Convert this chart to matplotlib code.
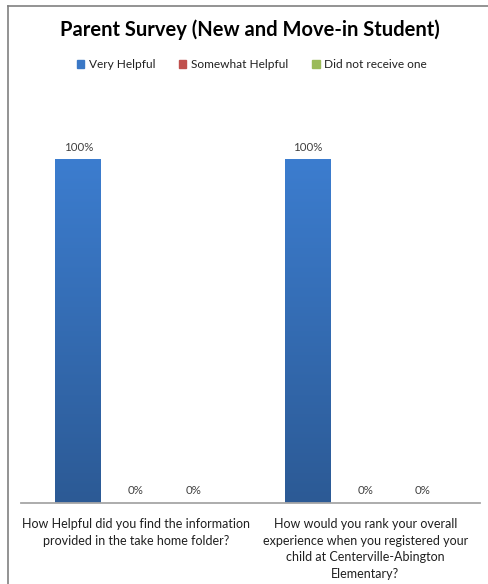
import numpy as np
import matplotlib
matplotlib.use('Agg')
from matplotlib import pyplot as plt
from matplotlib.colors import LinearSegmentedColormap
from matplotlib.lines import Line2D

questions = [
    'How Helpful did you find the information\nprovided in the take home folder?',
    'How would you rank your overall\nexperience when you registered your\nchild at Centerville-Abington\nElementary?',
]
series_names = ['Very Helpful', 'Somewhat Helpful', 'Did not receive one']
very_helpful = [100, 100]
somewhat_helpful = [0, 0]
not_received = [0, 0]

colors = ['#3a78c6', '#c0504d', '#9bbb59']
grads = [('#2c5a95', '#3c7dcf'), ('#9c3a37', '#c9534f'), ('#7c9a44', '#a0c05c')]

plt.rcParams['font.family'] = ['Lato', 'DejaVu Sans']

W, H = 488, 584
fig = plt.figure(figsize=(W / 100, H / 100), dpi=100)
ax = fig.add_axes([21 / W, (H - 503) / H, (480 - 21) / W, (503 - 91) / H])

x = np.arange(len(questions))
offsets = [-0.25, 0, 0.25]
width = 0.2
values = [very_helpful, somewhat_helpful, not_received]

for vals, off, col, (c_lo, c_hi) in zip(values, offsets, colors, grads):
    bars = ax.bar(x + off, vals, width, color=col, edgecolor='none', zorder=2)
    cmap = LinearSegmentedColormap.from_list('g', [c_lo, c_hi])
    for b, v in zip(bars, vals):
        if v > 0:
            b.set_alpha(0)
            x0 = b.get_x()
            ax.imshow(np.linspace(0, 1, 256).reshape(-1, 1), cmap=cmap, origin='lower',
                      extent=[x0, x0 + b.get_width(), 0, v], aspect='auto', zorder=2)
        ax.text(b.get_x() + b.get_width() / 2, v + 2.0, f'{v}%', ha='center', va='bottom',
                fontsize=8.3, color='#404040', zorder=3)

ax.set_xlim(-0.5, 1.5)
ax.set_ylim(0, 120)
ax.set_yticks([])
ax.set_xticks(x)
ax.set_xticklabels(questions, fontsize=9.0, color='#202020', linespacing=1.45)
ax.tick_params(axis='x', length=0, pad=11)
for s in ['top', 'right', 'left']:
    ax.spines[s].set_visible(False)
ax.spines['bottom'].set_color('#a6a6a6')
ax.spines['bottom'].set_linewidth(1.3)

fig.text(250 / W, 1 - 30 / H, 'Parent Survey (New and Move-in Student)', ha='center', va='center',
         fontsize=14.5, fontweight='bold', color='#000000')

handles = [plt.Rectangle((0, 0), 1, 1, color=c) for c in colors]
fig.legend(handles, series_names, loc='center', bbox_to_anchor=(252 / W, 1 - 65 / H), ncol=3,
           frameon=False, fontsize=8.6, handlelength=0.6, handleheight=0.6,
           handletextpad=0.4, columnspacing=2.0, labelcolor='#202020')

# chart frame, left and top edges
fig.add_artist(Line2D([7.5 / W, 7.5 / W], [0, 1 - 6 / H], color='#808080', lw=1.2))
fig.add_artist(Line2D([7.5 / W, 1], [1 - 6 / H, 1 - 6 / H], color='#808080', lw=1.2))

fig.savefig('out.png', dpi=100)
